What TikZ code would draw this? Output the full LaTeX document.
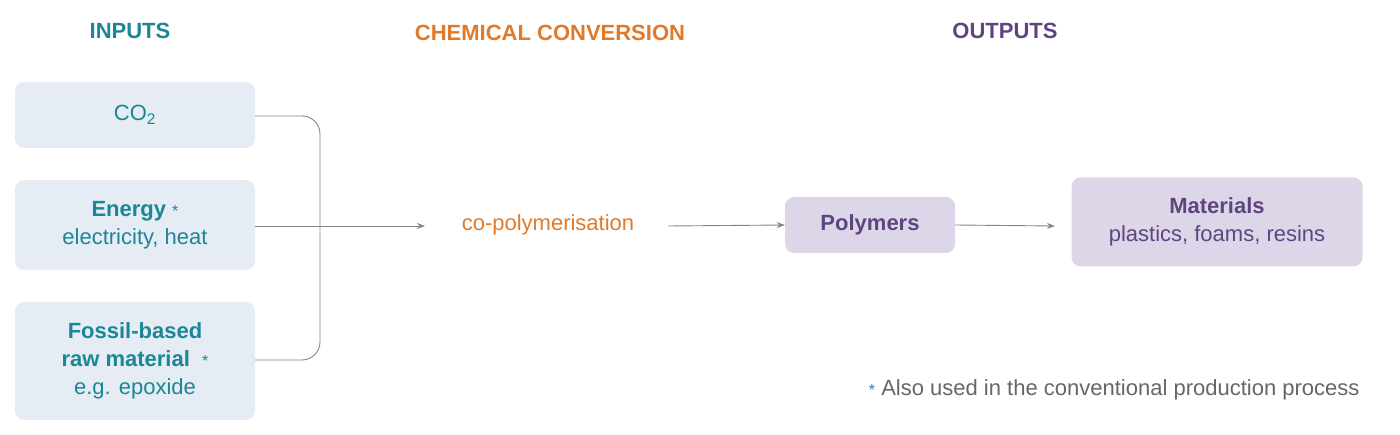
\documentclass[tikz,border=0pt]{standalone}
\usepackage{fontspec}
\usetikzlibrary{arrows.meta}
\setmainfont{Liberation Sans}
\definecolor{teal1}{HTML}{1B8796}
\definecolor{inbox}{HTML}{E5ECF4}
\definecolor{orng}{HTML}{E07A2A}
\definecolor{purp}{HTML}{5E4580}
\definecolor{outbox}{HTML}{DDD6E8}
\definecolor{gry}{HTML}{666666}
\tikzset{
 inb/.style={fill=inbox,rounded corners=9pt,minimum width=240pt,align=center,text=teal1,font=\fontsize{22}{28}\selectfont},
 outb/.style={fill=outbox,rounded corners=9pt,align=center,text=purp,font=\fontsize{22}{28}\selectfont},
 hdr/.style={font=\fontsize{22}{26}\selectfont\bfseries},
 arr/.style={draw=gry!80,line width=0.9pt,-{Stealth[length=8pt,width=6pt]}},
 ln/.style={draw=gry!80,line width=0.9pt}
}
\begin{document}
\begin{tikzpicture}[x=1pt,y=-1pt]
\useasboundingbox (0,0) rectangle (1400,435);
\node[hdr,text=teal1] (h1) at (130,31) {INPUTS};
\node[hdr,text=orng] (h2) at (550,33) {CHEMICAL CONVERSION};
\node[hdr,text=purp] (h3) at (1005,31) {OUTPUTS};
\node[inb,minimum height=66pt] (co2) at (135,115) {CO\textsubscript{2}};
\node[inb,minimum height=90pt] (en) at (135,225) {\textbf{Energy} {\fontsize{16}{16}\selectfont *}\\electricity, heat};
\node[inb,minimum height=118pt] (fo) at (135,361) {\textbf{Fossil-based}\\\textbf{raw material}\ \ {\fontsize{16}{16}\selectfont *}\\e.g. epoxide};
\node[text=orng,font=\fontsize{22}{26}\selectfont] (cp) at (548,225) {co-polymerisation};
\node[outb,minimum width=170pt,minimum height=56pt,font=\fontsize{22}{28}\selectfont\bfseries] (po) at (870,225) {Polymers};
\node[outb,minimum width=291pt,minimum height=89pt] (ma) at (1217,222) {\textbf{Materials}\\plastics, foams, resins};
\node[anchor=east,text=gry,font=\fontsize{22}{26}\selectfont] (fn) at (1363,390) {{\color{teal1}\fontsize{16}{16}\selectfont *} Also used in the conventional production process};
\coordinate (j) at (320,226);
\coordinate (cin) at (425,226);
\coordinate (cout) at (668,226);
\draw[ln,rounded corners=18pt] (co2.east |- 0,116) -| (j) |- (fo.east |- 0,360);
\draw[arr] (en.east |- 0,226) -- (cin);
\draw[arr] (cout) -- (po.west);
\draw[arr] (po.east) -- (1055,226);
\end{tikzpicture}
\end{document}
